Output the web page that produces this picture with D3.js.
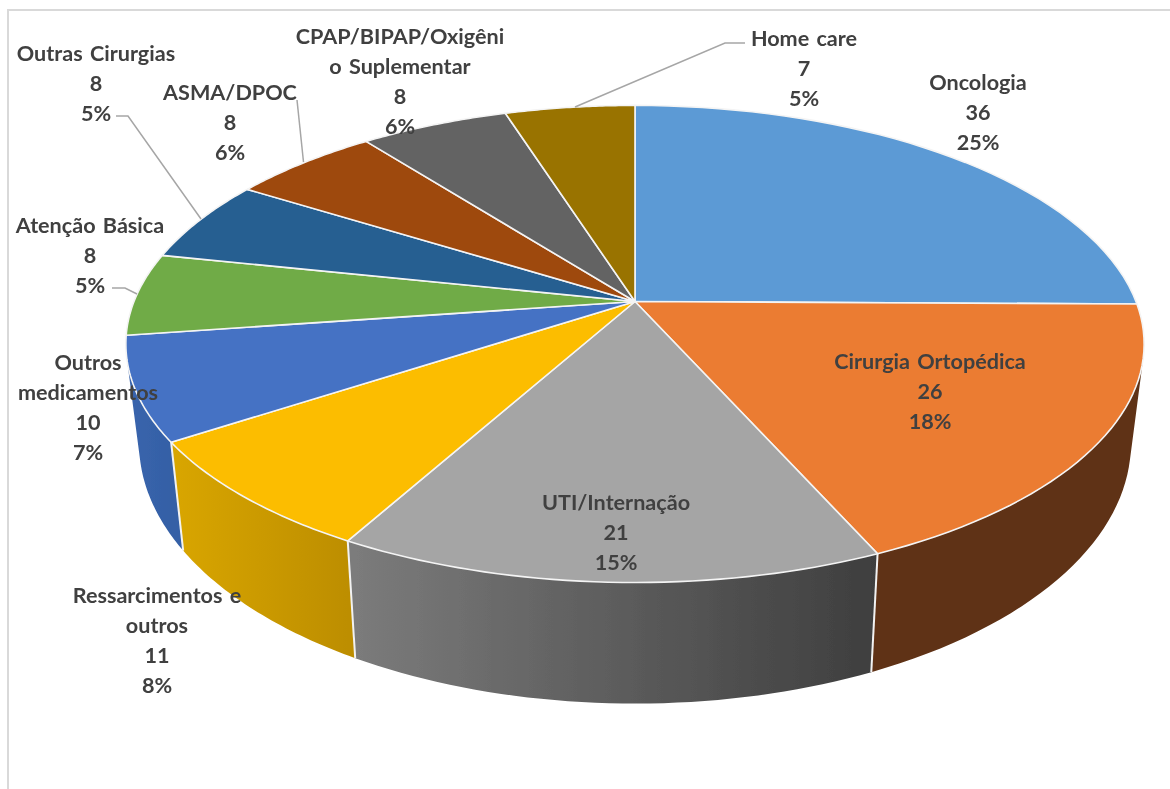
<!DOCTYPE html>
<html><head><meta charset="utf-8">
<script src="https://cdn.jsdelivr.net/npm/d3@7/dist/d3.min.js"></script>
<style>html,body{margin:0;padding:0;background:#fff}svg{display:block}text{font-family:Lato,"Open Sans",sans-serif;font-weight:700;font-size:21.6px;word-spacing:2px;fill:#404040;text-anchor:middle;dominant-baseline:central}</style>
</head><body><svg id="c" width="1170" height="789"></svg>
<script>
const categories=["Oncologia","Cirurgia Ortopédica","UTI/Internação","Ressarcimentos e outros","Outros medicamentos","Atenção Básica","Outras Cirurgias","ASMA/DPOC","CPAP/BIPAP/Oxigênio Suplementar","Home care"];
const values=[36,26,21,11,10,8,8,8,8,7];
const percents=["25%","18%","15%","8%","7%","5%","5%","6%","6%","5%"];
const labelLines=[["Oncologia"],["Cirurgia  Ortopédica"],["UTI/Internação"],["Ressarcimentos e","outros"],["Outros","medicamentos"],["Atenção Básica"],["Outras Cirurgias"],["ASMA/DPOC"],["CPAP/BIPAP/Oxigêni","o Suplementar"],["Home care"]];
const topColors=["#5b9ad5","#eb7c32","#a5a5a5","#fcbd00","#4472c4","#6fab47","#255e91","#9e480e","#636363","#997300"];
const sideFrom=[null,"#5f3114","#7c7c7c","#d9a600","#3a65ad",null,null,null,null,null];
const sideTo=[null,"#5f3114","#3e3e3e","#bd8e00","#3460a6",null,null,null,null,null];

// label layout: centre x and first-line centre y
const labelX=[978,930,616,157,88,90,96,230,400,804];
const labelY=[82,361,502,595,362,225,53,92,36,38];
const lineStep=30;
const leaders=[[[745,43],[725,43],[575,107]],[[116,116],[128,116],[201,219]],[[297,100],[303.5,162]],[[112,288],[125,288],[137,294]]];

// perspective projection of a unit circle
const cx=635,persp=0.178;
const topFace={cy:301.5,a:231,b:501};
const botFace={cy:397,a:252,b:488};
function project(face,angle){
  const x=Math.sin(angle),y=-Math.cos(angle),d=1-persp*y;
  return [cx+face.b*x/d,face.cy+face.a*y/d];
}
const svg=d3.select("#c");
defsRoot=svg.append("defs");
defsRoot.append("filter").attr("id","soft").attr("x",0).attr("y",0).attr("width",1).attr("height",1)
  .append("feGaussianBlur").attr("stdDeviation",0.5);
const root=svg.append("g").attr("filter","url(#soft)");
root.append("rect").attr("width",1170).attr("height",789).attr("fill","#fff");
root.append("path").attr("d","M1170,10H8V789").attr("fill","none").attr("stroke","#d9d9d9").attr("stroke-width",2);

const arcs=d3.pie().sort(null).value(d=>d)(values);
const steps=a=>d3.range(0,41).map(i=>a.startAngle+(a.endAngle-a.startAngle)*i/40);
const line=d3.line();

// sides (only the slices whose outer wall faces the viewer)
arcs.forEach((a,i)=>{
  if(!sideFrom[i]) return;
  const st=steps(a);
  const pts=st.map(t=>project(topFace,t));
  const xs=pts.map(p=>p[0]);
  const id="g"+i;
  const g=defsRoot.append("linearGradient").attr("id",id).attr("gradientUnits","userSpaceOnUse")
    .attr("x1",d3.min(xs)).attr("x2",d3.max(xs)).attr("y1",0).attr("y2",0);
  g.append("stop").attr("offset",0).attr("stop-color",sideFrom[i]);
  g.append("stop").attr("offset",1).attr("stop-color",sideTo[i]);
  let d="";
  for(let k=0;k<st.length-1;k++){
    let q=[project(topFace,st[k]),project(topFace,st[k+1]),project(botFace,st[k+1]),project(botFace,st[k])];
    if(d3.polygonArea(q)<0) q=q.reverse();
    d+=line(q)+"Z";
  }
  root.append("path").attr("d",d).attr("fill",`url(#${id})`);
});
// separators on visible side
arcs.forEach(a=>{
  const t=a.endAngle;
  if(Math.cos(t)<-0.2){
    root.append("path").attr("d",line([project(topFace,t),project(botFace,t)])).attr("stroke","#f2f2f2").attr("stroke-width",2).attr("fill","none");
  }
});
// top faces
arcs.forEach((a,i)=>{
  const p=[[cx,topFace.cy],...steps(a).map(t=>project(topFace,t))];
  root.append("path").attr("d",line(p)+"Z").attr("fill",topColors[i]).attr("stroke","#f4f4f4").attr("stroke-width",1.6).attr("stroke-linejoin","round");
});
// leader lines
leaders.forEach(l=>root.append("path").attr("d",line(l)).attr("fill","none").attr("stroke","#a6a6a6").attr("stroke-width",1.5));
// labels
categories.forEach((c,i)=>{
  const lines=[...labelLines[i],String(values[i]),percents[i]];
  const t=root.append("text").attr("aria-label",c);
  lines.forEach((s,k)=>t.append("tspan").attr("x",labelX[i]).attr("y",labelY[i]+k*lineStep).text(s));
});
</script></body></html>
